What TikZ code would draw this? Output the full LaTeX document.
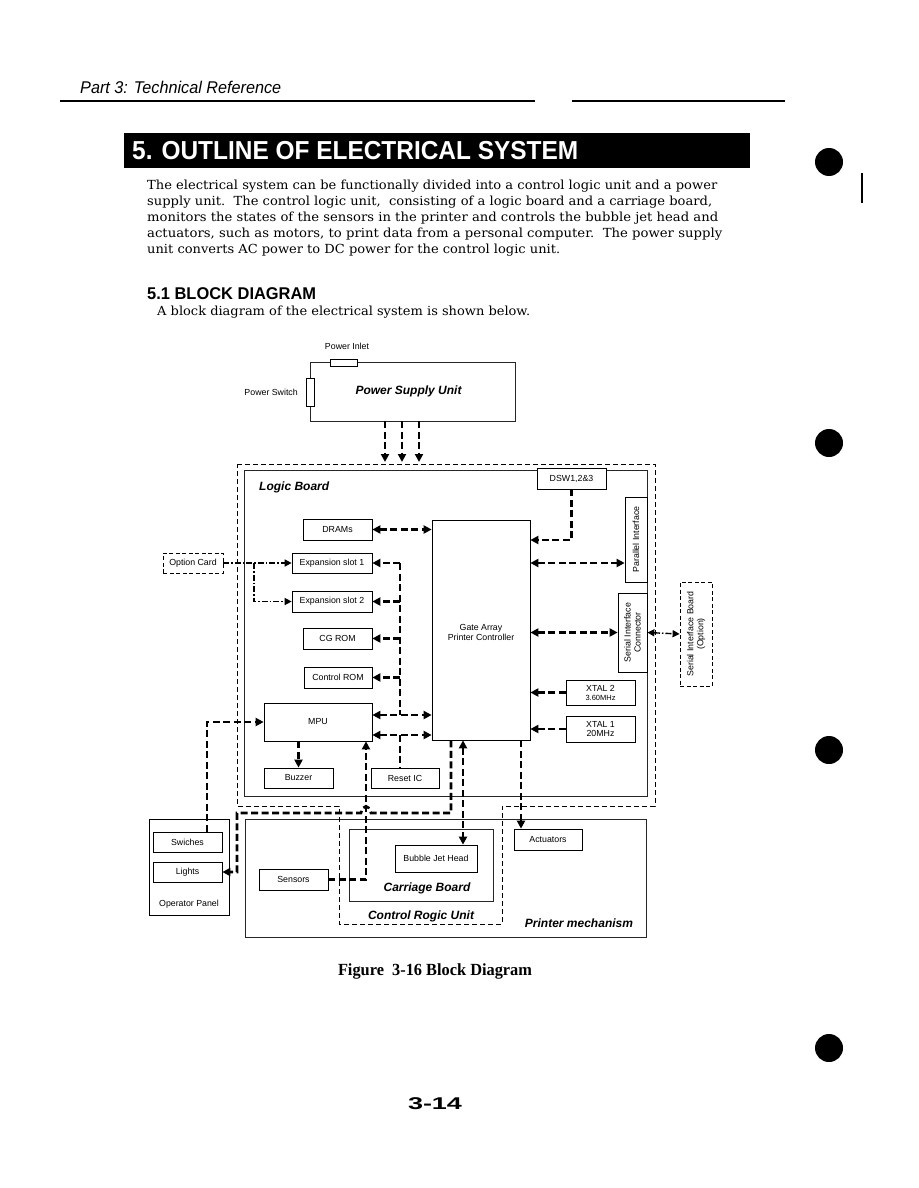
\documentclass[tikz,border=0pt]{standalone}
\usepackage{fontspec}
\setmainfont{Liberation Sans}
\newfontfamily\bodyf{DejaVu Serif}
\newfontfamily\capf{Liberation Serif}
\usetikzlibrary{arrows.meta}
\newcommand\fitw[2]{\resizebox{#1pt}{\height}{#2}}
\newcommand\labf{\fontsize{8.8}{10}\selectfont}
\newcommand\bilabf{\fontsize{12}{13}\selectfont\bfseries\itshape}
\newcommand\bodysz{\bodyf\fontsize{12.5}{15}\selectfont}
\tikzset{
  blk/.style={draw, line width=0.7pt, fill=white, inner sep=0pt, font=\labf, align=center},
  dbox/.style={draw, line width=0.8pt, dash pattern=on 4pt off 2.5pt, fill=white, inner sep=0pt, font=\labf, align=center},
  frame/.style={draw=black!85, line width=0.9pt},
  dline/.style={line width=0.8pt, dash pattern=on 5pt off 3pt},
  bus/.style={line width=2.6pt, dash pattern=on 7pt off 3.5pt},
  opt/.style={line width=1.4pt, dash pattern=on 6pt off 2pt on 1.5pt off 2pt, >={Triangle[length=7pt,width=7pt]}},
  txt/.style={inner sep=0pt, font=\labf, align=center},
  bil/.style={inner sep=0pt, font=\bilabf}
}
\begin{document}
\begin{tikzpicture}[x=1pt,y=-1pt, >={Triangle[length=8pt,width=8pt]}]
\useasboundingbox (0,0) rectangle (918,1188);
\fill[white] (0,0) rectangle (918,1188);

% ---------- page header and text ----------
\node[anchor=west, inner sep=0pt] (hdr) at (80,87) {\fitw{201}{\fontsize{17}{19}\selectfont\itshape Part 3: Technical Reference}};
\draw[line width=1.8pt] (60,101) -- (335,101);
\draw[line width=1.2pt] (335,101) -- (535,101);
\draw[line width=1.8pt] (572,101) -- (785,101);
\fill[black] (124,133) rectangle (750,168);
\node[anchor=west, inner sep=0pt, text=white] (ttl) at (132,151) {\fitw{446}{\fontsize{26}{28}\selectfont\bfseries 5. OUTLINE OF ELECTRICAL SYSTEM}};
\node[anchor=west, inner sep=0pt] (p1) at (147,186) {\fitw{570}{\bodysz The electrical system can be functionally divided into a control logic unit and a power}};
\node[anchor=west, inner sep=0pt] (p2) at (147,202) {\fitw{565}{\bodysz supply unit.\ \ The control logic unit,\ \ consisting of a logic board and a carriage board,}};
\node[anchor=west, inner sep=0pt] (p3) at (147,218) {\fitw{571}{\bodysz monitors the states of the sensors in the printer and controls the bubble jet head and}};
\node[anchor=west, inner sep=0pt] (p4) at (147,234) {\fitw{575}{\bodysz actuators, such as motors, to print data from a personal computer.\ \ The power supply}};
\node[anchor=west, inner sep=0pt] (p5) at (147,250) {\fitw{413}{\bodysz unit converts AC power to DC power for the control logic unit.}};
\node[anchor=west, inner sep=0pt] (sec) at (147,294) {\fitw{169}{\fontsize{17}{19}\selectfont\bfseries 5.1 BLOCK DIAGRAM}};
\node[anchor=west, inner sep=0pt] (p6) at (157,312) {\fitw{373}{\bodysz A block diagram of the electrical system is shown below.}};

% binder holes and mark
\fill (829,162) circle[radius=14pt];
\fill (829,443) circle[radius=14pt];
\fill (829,750) circle[radius=14pt];
\fill (829,1048) circle[radius=14pt];
\draw[line width=1.2pt] (862,173) -- (862,203);

% ---------- power supply ----------
\node[frame, minimum width=205pt, minimum height=59pt, inner sep=0pt, font=\bilabf] (psu) at (412.5,391.5) {\hspace*{-8pt}Power Supply Unit};
\node[blk, line width=1pt, minimum width=8pt, minimum height=28pt] (psw) at (310,392) {};
\node[blk, line width=1pt, minimum width=27pt, minimum height=7pt] (inlet) at (343.5,362.5) {};
\node[txt, anchor=east] (pswl) at (298,392) {Power Switch};
\node[txt] (inll) at (347,346) {Power Inlet};

\coordinate (pa1) at (385,462);
\coordinate (pa2) at (402,462);
\coordinate (pa3) at (419,462);
\draw[bus,->] (psu.south -| pa1) -- (pa1);
\draw[bus,->] (psu.south -| pa2) -- (pa2);
\draw[bus,->] (psu.south -| pa3) -- (pa3);

% ---------- printer mechanism / control logic unit ----------
\node[frame, minimum width=401pt, minimum height=118pt, inner sep=0pt] (pm) at (445.5,878) {};
\node[bil] (pml) at (579,923) {Printer mechanism};
\draw[dline] (237,464) -- (655,464) -- (655,806) -- (502,806) -- (502,924) -- (339,924) -- (339,806) -- (237,806) -- cycle;
\node[bil] (clul) at (421,916) {Control Rogic Unit};

% ---------- logic board ----------
\node[frame, minimum width=403pt, minimum height=326pt, inner sep=0pt] (lb) at (445.5,633.5) {};
\node[bil, anchor=west] (lbl) at (259,487) {Logic Board};
\node[blk, minimum width=69pt, minimum height=21pt] (dsw) at (571.5,478.5) {DSW1,2\&3};
\node[blk, minimum width=98pt, minimum height=220pt] (ga) at (481,630) {};
\node[txt] (gal) at (481,632) {Gate Array\\Printer Controller};
\node[blk, minimum width=69pt, minimum height=21pt] (dram) at (337.5,529.5) {DRAMs};
\node[blk, minimum width=80pt, minimum height=20pt] (es1) at (332,563) {Expansion slot 1};
\node[blk, minimum width=80pt, minimum height=21pt] (es2) at (332,601.5) {Expansion slot 2};
\node[blk, minimum width=69pt, minimum height=21pt] (cg) at (337.5,638.5) {CG ROM};
\node[blk, minimum width=68pt, minimum height=21pt] (crom) at (338,677.5) {Control ROM};
\node[blk, minimum width=108pt, minimum height=38pt] (mpu) at (318,722) {MPU};
\node[blk, minimum width=69pt, minimum height=20pt] (buz) at (298.5,778) {Buzzer};
\node[blk, minimum width=68pt, minimum height=20pt] (rst) at (405,778) {Reset IC};
\node[blk, minimum width=22pt, minimum height=85pt] (par) at (636,539.5) {};
\node[txt, rotate=90] (parl) at (par) {Parallel Interface};
\node[blk, minimum width=29pt, minimum height=79pt] (ser) at (632.5,632.5) {};
\node[txt, rotate=90] (serl) at (ser) {Serial Interface\\Connector};
\node[blk, minimum width=69pt, minimum height=25pt] (x2) at (600.5,692.5) {XTAL 2\\[-1pt]{\fontsize{7.5}{8}\selectfont 3.60MHz}};
\node[blk, minimum width=69pt, minimum height=26pt] (x1) at (600.5,729) {XTAL 1\\[-1pt]20MHz};

% outside boxes
\node[dbox, minimum width=32pt, minimum height=104pt] (serb) at (696,634) {};
\node[txt, rotate=90] (serbl) at (serb) {Serial Interface Board\\(Option)};
\node[dbox, minimum width=60pt, minimum height=20pt] (optc) at (193,563) {Option Card};

% bottom boxes
\node[blk, minimum width=80pt, minimum height=96pt] (op) at (189,867) {};
\node[txt] (opl) at (189,904) {Operator Panel};
\node[blk, minimum width=69pt, minimum height=20pt] (sw) at (187.5,842) {Swiches};
\node[blk, minimum width=69pt, minimum height=20pt] (li) at (187.5,872) {Lights};
\node[blk, minimum width=69pt, minimum height=21pt] (sens) at (293.5,879.5) {Sensors};
\node[frame, fill=white, minimum width=144pt, minimum height=72pt, inner sep=0pt] (cb) at (421,865) {};
\node[bil] (cbl) at (427,888) {Carriage Board};
\node[blk, minimum width=82pt, minimum height=27pt] (bj) at (436,858.5) {Bubble Jet Head};
\node[blk, minimum width=68pt, minimum height=21pt] (act) at (548,839.5) {Actuators};

% ---------- connectors ----------
\draw[bus,<->] (dram.east) -- (dram.east -| ga.west);
\coordinate (bx) at (400,0);
\coordinate (m1) at (372,715);
\coordinate (m2) at (372,735);
\draw[bus] (bx |- es1.east) -- (bx |- m1);
\draw[bus,->] (bx |- es1.east) -- (es1.east);
\draw[bus,->] (bx |- es2.east) -- (es2.east);
\draw[bus,->] (bx |- cg.east) -- (cg.east);
\draw[bus,->] (bx |- crom.east) -- (crom.east);
\draw[bus,<->] (mpu.east |- m1) -- (ga.west |- m1);
\draw[bus,<->] (mpu.east |- m2) -- (ga.west |- m2);
\draw[bus] (bx |- m2) -- (bx |- rst.north);
\draw[bus,->] (buz.north |- mpu.south) -- (buz.north);

% DSW, interfaces, crystals
\coordinate (dg) at (571.5,540);
\draw[bus,->] (dsw.south) -- (dg) -- (ga.east |- dg);
\coordinate (pr) at (529,563);
\draw[bus,<->] (ga.east |- pr) -- (par.west |- pr);
\draw[bus,<->] (ga.east |- ser.west) -- (ser.west);
\draw[opt,<->] (ser.east) -- (serb.west);
\draw[bus,->] (x2.west) -- (ga.east |- x2.west);
\draw[bus,->] (x1.west) -- (ga.east |- x1.west);

% option card
\coordinate (ob) at (254,563);
\draw[opt,->] (optc.east) -- (es1.west);
\draw[opt,->] (ob) -- (ob |- es2.west) -- (es2.west);

% operator panel
\coordinate (swx) at (207,0);
\draw[bus,->] (swx |- sw.north) -- (swx |- mpu.west) -- (mpu.west);
\coordinate (gl) at (451,813);
\coordinate (gc) at (237,813);
\draw[bus,->] (gl |- ga.south) -- (gl) -- (371,813) .. controls (368.5,804) and (363.5,804) .. (361,813) -- (gc) -- (gc |- li.east) -- (li.east);

% sensors to MPU
\coordinate (sx) at (366,0);
\draw[bus,->] (sens.east) -- (sx |- sens.east) -- (sx |- mpu.south);

% gate array down
\coordinate (gx2) at (463,0);
\coordinate (gx3) at (521,0);
\draw[bus,<->] (gx2 |- ga.south) -- (gx2 |- bj.north);
\draw[bus,->] (gx3 |- ga.south) -- (gx3 |- act.north);

% caption and page number
\node[inner sep=0pt] (cap) at (435,971) {\fitw{194}{\capf\fontsize{17}{19}\selectfont\bfseries Figure\ \ 3-16 Block Diagram}};
\node[inner sep=0pt] (pg) at (435,1104) {\fitw{54}{\fontsize{17}{19}\selectfont\bfseries 3-14}};
\end{tikzpicture}
\end{document}
